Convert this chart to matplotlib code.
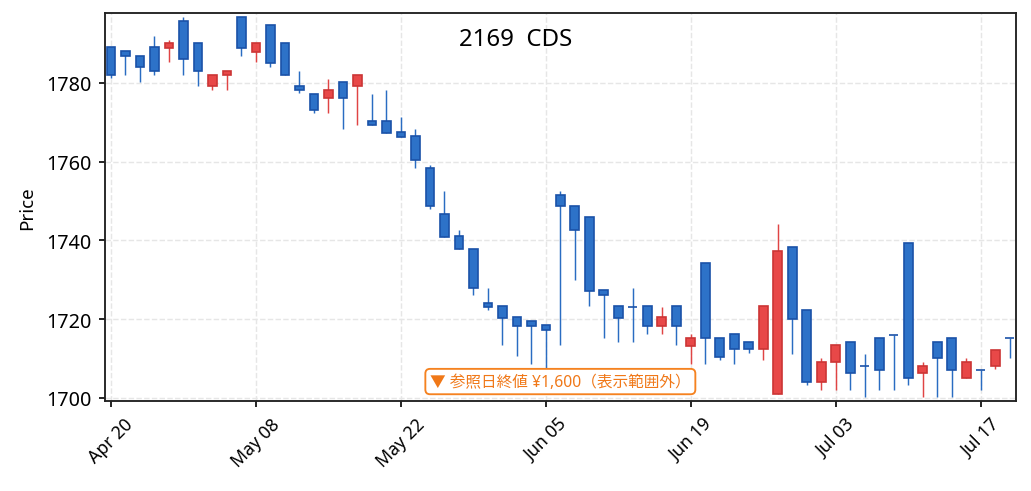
import numpy as np
import matplotlib
matplotlib.use('Agg')
import matplotlib.pyplot as plt

plt.rcParams['font.family'] = ['Noto Sans', 'Noto Sans CJK JP', 'DejaVu Sans']

# OHLC values (one per trading day)
opens = [1789.0, 1788.0, 1786.9, 1789.0, 1788.9, 1795.8, 1790.0, 1779.2, 1782.0, 1796.8,
         1787.9, 1794.8, 1790.0, 1779.3, 1777.2, 1776.2, 1780.1, 1779.2, 1770.4, 1770.4,
         1767.4, 1766.4, 1758.5, 1746.8, 1741.0, 1737.9, 1724.2, 1723.2, 1720.4, 1719.4,
         1718.4, 1751.6, 1748.8, 1745.8, 1727.3, 1723.2, 1723.1, 1723.2, 1718.3, 1723.2,
         1713.2, 1734.2, 1715.3, 1716.3, 1714.3, 1712.4, 1701.0, 1738.2, 1722.2, 1704.1,
         1709.1, 1714.3, 1708.2, 1715.3, 1716.0, 1739.2, 1706.2, 1714.3, 1715.3, 1705.1,
         1707.1, 1708.1, 1715.3]
highs = [1789.0, 1788.0, 1786.9, 1791.9, 1790.9, 1796.7, 1790.0, 1782.1, 1783.1, 1796.8,
         1790.0, 1794.8, 1790.0, 1783.0, 1777.2, 1781.0, 1780.1, 1782.1, 1777.2, 1778.2,
         1771.4, 1768.3, 1759.2, 1752.6, 1742.7, 1737.9, 1727.9, 1723.2, 1720.4, 1719.4,
         1718.4, 1752.6, 1748.8, 1745.8, 1727.3, 1723.2, 1727.9, 1723.2, 1723.1, 1723.2,
         1716.3, 1734.2, 1715.3, 1716.3, 1714.3, 1723.2, 1744.2, 1738.2, 1722.2, 1710.1,
         1713.3, 1714.3, 1711.1, 1715.3, 1716.0, 1739.2, 1709.1, 1714.3, 1715.3, 1710.1,
         1707.1, 1712.2, 1715.3]
lows = [1781.2, 1782.1, 1780.1, 1782.1, 1785.2, 1782.1, 1779.3, 1778.3, 1778.3, 1786.9,
        1785.2, 1784.1, 1782.0, 1777.4, 1772.3, 1772.3, 1768.4, 1769.4, 1769.3, 1767.3,
        1766.3, 1758.5, 1748.0, 1740.9, 1737.8, 1726.2, 1722.2, 1713.3, 1710.5, 1708.5,
        1707.2, 1713.3, 1730.0, 1723.2, 1715.3, 1714.3, 1714.3, 1716.3, 1716.3, 1713.3,
        1708.5, 1708.5, 1709.5, 1708.5, 1711.4, 1709.5, 1701.0, 1711.2, 1703.2, 1702.1,
        1702.1, 1702.1, 1700.2, 1702.1, 1702.1, 1703.2, 1700.2, 1700.2, 1700.2, 1705.1,
        1702.1, 1707.2, 1710.2]
closes = [1782.1, 1786.9, 1784.0, 1783.0, 1790.0, 1786.1, 1783.0, 1782.1, 1783.1, 1788.9,
          1790.0, 1785.1, 1782.0, 1778.2, 1773.1, 1778.3, 1776.2, 1782.1, 1769.3, 1767.3,
          1766.3, 1760.4, 1748.8, 1740.9, 1737.8, 1727.9, 1723.0, 1720.2, 1718.3, 1718.3,
          1717.3, 1748.8, 1742.7, 1727.2, 1726.2, 1720.3, 1723.1, 1718.3, 1720.4, 1718.3,
          1715.3, 1715.2, 1710.4, 1712.4, 1712.4, 1723.2, 1737.2, 1720.1, 1704.1, 1709.2,
          1713.3, 1706.2, 1708.2, 1707.0, 1716.0, 1705.1, 1708.2, 1710.2, 1707.0, 1709.2,
          1707.1, 1712.2, 1715.3]

tick_labels = ['Apr 20', 'May 08', 'May 22', 'Jun 05', 'Jun 19', 'Jul 03', 'Jul 17']
title = '2169  CDS'
note = '▼ 参照日終値 ¥1,600（表示範囲外）'

up_fill, up_edge = '#e84848', '#cc3535'
dn_fill, dn_edge = '#2d72c8', '#1a52a8'

o = np.array(opens)
h = np.array(highs)
l = np.array(lows)
c = np.array(closes)
x = np.arange(len(o))
up = c > o

fig, ax = plt.subplots(figsize=(1031 / 150, 492 / 150), dpi=150)
fig.subplots_adjust(left=0.102, right=0.985, top=0.972, bottom=0.183)

# wicks
ax.vlines(x[up], l[up], h[up], color='#e04444', linewidth=0.7, zorder=2)
ax.vlines(x[~up], l[~up], h[~up], color='#2a6cc2', linewidth=0.7, zorder=2)

# bodies
bottom = np.minimum(o, c)
height = np.abs(c - o)
ax.bar(x[up], height[up], bottom=bottom[up], width=0.6,
       color=up_fill, edgecolor=up_edge, linewidth=0.8, zorder=3)
ax.bar(x[~up], height[~up], bottom=bottom[~up], width=0.6,
       color=dn_fill, edgecolor=dn_edge, linewidth=0.8, zorder=3)

ax.set_xlim(-0.4, 62.4)
ax.set_ylim(1699.2, 1797.8)
ax.set_yticks([1700, 1720, 1740, 1760, 1780])
ax.set_xticks(np.arange(0, len(o), 10))
ax.set_xticklabels(tick_labels, rotation=45, fontsize=8.5)
ax.tick_params(axis='y', labelsize=9.5, length=3, width=0.8)
ax.tick_params(axis='x', length=3, width=0.8)
ax.set_ylabel('Price', fontsize=9, labelpad=5)

for s in ax.spines.values():
    s.set_linewidth(0.9)
    s.set_color('#222222')

ax.grid(True, linestyle='--', color='#e6e6e6', linewidth=0.7, zorder=0)
ax.set_axisbelow(True)

ax.text(0.451, 0.933, title, transform=ax.transAxes, ha='center', va='center',
        fontsize=11.5)
ax.text(0.5, 0.05, note, transform=ax.transAxes, ha='center', va='center',
        fontsize=7.5, color='#f07818',
        bbox=dict(boxstyle='round,pad=0.3', facecolor='white',
                  edgecolor='#f58220', linewidth=0.9))

fig.savefig('out.png', dpi=150)
